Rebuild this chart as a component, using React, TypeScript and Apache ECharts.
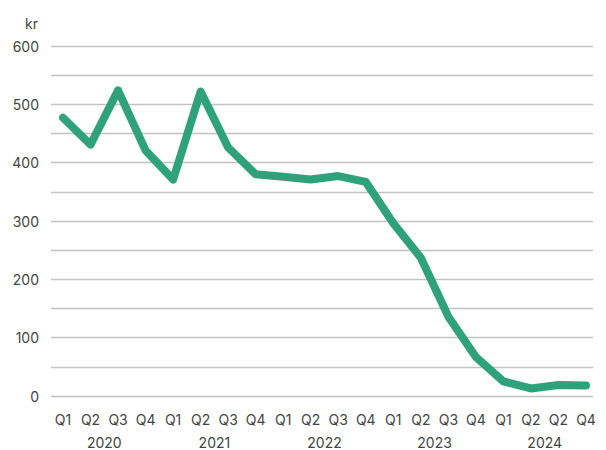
import React, { useEffect, useRef } from "react";
import * as echarts from "echarts";

const quarters = ["Q1","Q2","Q3","Q4","Q1","Q2","Q3","Q4","Q1","Q2","Q3","Q4","Q1","Q2","Q3","Q4","Q1","Q2","Q2","Q4"];
const years = ["2020", "2021", "2022", "2023", "2024"];
const yearPositions = [1.5, 5.5, 9.5, 13.5, 17.5];
const values = [477, 431, 524, 421, 371, 522, 426, 380, 376, 371, 377, 367, 296, 237, 136, 67, 25, 13, 19, 18];

export default function App() {
  const ref = useRef<HTMLDivElement>(null);
  useEffect(() => {
    const chart = echarts.init(ref.current!, null, { renderer: "svg" });
    const font = "Inter, 'Noto Sans', sans-serif";
    chart.setOption({
      animation: false,
      backgroundColor: "#ffffff",
      textStyle: { fontFamily: font },
      grid: [
        { left: 51, right: 13, top: 46, bottom: 54 },
        { left: 63, right: 20, top: 46, bottom: 54 },
      ],
      xAxis: [
        {
          type: "category",
          gridIndex: 1,
          data: quarters,
          boundaryGap: false,
          axisLine: { show: false },
          axisTick: { show: false },
          splitLine: { show: false },
          axisLabel: { interval: 0, margin: 16, fontSize: 14, color: "#444", fontFamily: font },
        },
        {
          type: "value",
          gridIndex: 1,
          min: 0,
          max: quarters.length - 1,
          position: "bottom",
          offset: 23,
          axisLine: { show: false },
          axisTick: { show: false },
          splitLine: { show: false },
          axisLabel: {
            customValues: yearPositions,
            margin: 16,
            fontSize: 14,
            color: "#444",
            fontFamily: font,
            formatter: (v: number) => {
              const i = yearPositions.findIndex((p) => Math.abs(p - v) < 0.01);
              return i >= 0 ? years[i] : "";
            },
          },
        },
        {
          type: "value",
          gridIndex: 0,
          min: 0,
          max: 1,
          show: false,
        },
      ],
      yAxis: [
        {
          type: "value",
          gridIndex: 0,
          min: 0,
          max: 600,
          interval: 50,
          name: "kr",
          nameLocation: "end",
          nameGap: 16,
          nameTextStyle: { align: "right", padding: [0, 13, 0, 0], fontSize: 14, color: "#444", fontFamily: font },
          axisLine: { show: false },
          axisTick: { show: false },
          splitLine: { lineStyle: { color: "#c2c2c2", width: 1.3 } },
          axisLabel: {
            margin: 12,
            fontSize: 14,
            color: "#444",
            fontFamily: font,
            formatter: (v: number) => (v % 100 === 0 ? String(v) : ""),
          },
        },
        {
          type: "value",
          gridIndex: 1,
          min: 0,
          max: 600,
          show: false,
        },
      ],
      series: [
        {
          type: "line",
          xAxisIndex: 0,
          yAxisIndex: 1,
          data: values,
          symbol: "none",
          lineStyle: { color: "#2fa17b", width: 8, cap: "round", join: "round" },
        },
      ],
    });
    return () => chart.dispose();
  }, []);
  return <div ref={ref} style={{ position: "absolute", left: 0, top: 0, width: 606, height: 450 }} />;
}
